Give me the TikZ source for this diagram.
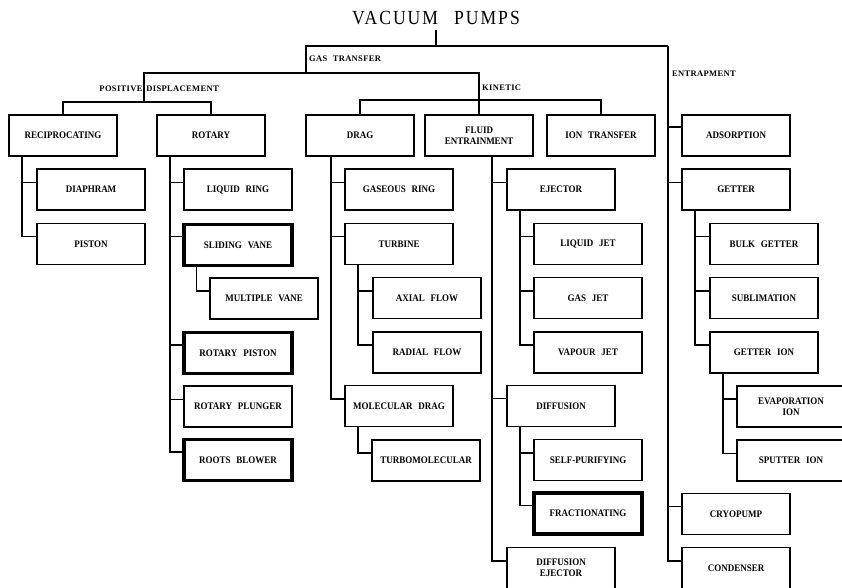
\documentclass[tikz,border=0pt]{standalone}
\usepackage{fontspec}
\setmainfont{Liberation Serif}
\newfontfamily\pumpfont{Liberation Serif}[FakeStretch=0.9,WordSpace=2.6]
\newfontfamily\notefont{Liberation Serif}[LetterSpace=4,WordSpace=2.2]
\newfontfamily\headfont{Liberation Serif}[FakeStretch=0.88,LetterSpace=10,WordSpace=2.5]
\usetikzlibrary{positioning}
\newcommand\branch[3][14pt]{%
  \draw[tie] ([xshift=#1]#2.south west) |- ([yshift=-14pt]#3.north west);
}

\begin{document}
\begin{tikzpicture}[x=1pt, y=-1pt,
tie/.style={line width=1.6pt},
pump/.style={
  draw,
  line width=1.6pt,
  minimum width=108pt,
  minimum height=41pt,
  inner sep=2pt,
  align=center,
  font=\pumpfont\bfseries\fontsize{10}{11}\selectfont},
heavy/.style={pump, line width=3.4pt},
note/.style={inner sep=0pt, font=\notefont\bfseries\fontsize{8.5}{9}\selectfont}
]
\useasboundingbox (0,0) rectangle (842,588);
\clip (0,0) rectangle (842,588);

\node[font=\headfont\fontsize{20}{21}\selectfont, inner sep=0pt] (title) at (436,18) {VACUUM PUMPS};

% first row
\node[pump, anchor=north west] (recip) at (8.2,114.2) {RECIPROCATING};
\node[pump, right=38.4pt of recip] (rotary) {ROTARY};
\node[pump, right=39.4pt of rotary] (drag) {DRAG};
\node[pump, right=9.4pt of drag] (fluid) {FLUID\\ENTRAINMENT};
\node[pump, right=12.4pt of fluid] (iontr) {ION TRANSFER};
\node[pump, right=25.4pt of iontr] (adsorb) {ADSORPTION};

% reciprocating
\node[pump, below right=11.6pt and 28pt of recip.south west] (diaphram) {DIAPHRAM};
\node[pump, below=11.6pt of diaphram] (piston) {PISTON};

% rotary
\node[pump, below right=11.6pt and 27pt of rotary.south west] (liqring) {LIQUID RING};
\node[heavy, below=11.6pt of liqring] (slidvane) {SLIDING VANE};
\node[pump, below right=10pt and 27pt of slidvane.south west] (multvane) {MULTIPLE VANE};
\node[heavy, below=64pt of slidvane] (rotpiston) {ROTARY PISTON};
\node[pump, below=10pt of rotpiston] (rotplunger) {ROTARY PLUNGER};
\node[heavy, below=10pt of rotplunger] (roots) {ROOTS BLOWER};

% drag
\node[pump, below right=11.6pt and 39pt of drag.south west] (gasring) {GASEOUS RING};
\node[pump, below=11.6pt of gasring] (turbine) {TURBINE};
\node[pump, below right=11.6pt and 28pt of turbine.south west] (axial) {AXIAL FLOW};
\node[pump, below=11.6pt of axial] (radial) {RADIAL FLOW};
\node[pump, below=119.6pt of turbine] (moldrag) {MOLECULAR DRAG};
\node[pump, below right=11.6pt and 27pt of moldrag.south west] (turbomol) {TURBOMOLECULAR};

% fluid entrainment
\node[pump, below right=11.6pt and 82pt of fluid.south west] (ejector) {EJECTOR};
\node[pump, below right=11.6pt and 27pt of ejector.south west] (liqjet) {LIQUID JET};
\node[pump, below=11.6pt of liqjet] (gasjet) {GAS JET};
\node[pump, below=11.6pt of gasjet] (vapjet) {VAPOUR JET};
\node[pump, below=173.6pt of ejector] (diffusion) {DIFFUSION};
\node[pump, below right=11.6pt and 27pt of diffusion.south west] (selfpur) {SELF-PURIFYING};
\node[heavy, below=10pt of selfpur] (fract) {FRACTIONATING};
\node[pump, below=119.6pt of diffusion] (diffej) {DIFFUSION\\EJECTOR};

% entrapment
\node[pump, below=11.6pt of adsorb] (getter) {GETTER};
\node[pump, below right=11.6pt and 28pt of getter.south west] (bulk) {BULK GETTER};
\node[pump, below=11.6pt of bulk] (subl) {SUBLIMATION};
\node[pump, below=11.6pt of subl] (getterion) {GETTER ION};
\node[pump, below right=11.6pt and 27pt of getterion.south west] (evap) {EVAPORATION\\ION};
\node[pump, below=11.6pt of evap] (sputter) {SPUTTER ION};
\node[pump, below=281.6pt of getter] (cryo) {CRYOPUMP};
\node[pump, below=11.6pt of cryo] (condenser) {CONDENSER};

% main split
\coordinate (gas) at (306,73);
\coordinate (trap) at (668,46);
\coordinate (posdisp) at (144,102);
\coordinate (kinetic) at (479,100);

\node[note, anchor=west] (gaslbl) at (309,59) {GAS TRANSFER};
\node[note] (pdlbl) at (144.5,89) {\llap{POSITIVE\kern2pt}\rlap{\kern2pt DISPLACEMENT}};
\node[note, anchor=west] (kinlbl) at (482,88) {KINETIC};
\node[note, anchor=west] (traplbl) at (672,74) {ENTRAPMENT};

\draw[tie] ([yshift=-5pt]title.south) -- (title.south |- trap);
\draw[tie] (gas) |- (trap);
\draw[tie] (posdisp) |- (gas);
\draw[tie] (kinetic) |- (gas);
\draw[tie] (recip) |- (posdisp);
\draw[tie] (rotary) |- (posdisp);
\draw[tie] (drag) |- (kinetic);
\draw[tie] (fluid) |- (kinetic);
\draw[tie] (iontr) |- (kinetic);

\branch{recip}{diaphram}
\branch{recip}{piston}
\branch{rotary}{liqring}
\branch{rotary}{slidvane}
\branch{slidvane}{multvane}
\branch{rotary}{rotpiston}
\branch{rotary}{rotplunger}
\branch{rotary}{roots}
\branch[26pt]{drag}{gasring}
\branch[26pt]{drag}{turbine}
\branch{turbine}{axial}
\branch{turbine}{radial}
\branch[26pt]{drag}{moldrag}
\branch{moldrag}{turbomol}
\branch[68pt]{fluid}{ejector}
\branch{ejector}{liqjet}
\branch{ejector}{gasjet}
\branch{ejector}{vapjet}
\branch[68pt]{fluid}{diffusion}
\branch{diffusion}{selfpur}
\branch{diffusion}{fract}
\branch[68pt]{fluid}{diffej}
\draw[tie] (trap) |- ([yshift=-13pt]adsorb.north west);
\draw[tie] (trap) |- ([yshift=-14pt]getter.north west);
\branch{getter}{bulk}
\branch{getter}{subl}
\branch{getter}{getterion}
\branch{getterion}{evap}
\branch{getterion}{sputter}
\draw[tie] (trap) |- ([yshift=-14pt]cryo.north west);
\draw[tie] (trap) |- ([yshift=-14pt]condenser.north west);

\end{tikzpicture}
\end{document}
